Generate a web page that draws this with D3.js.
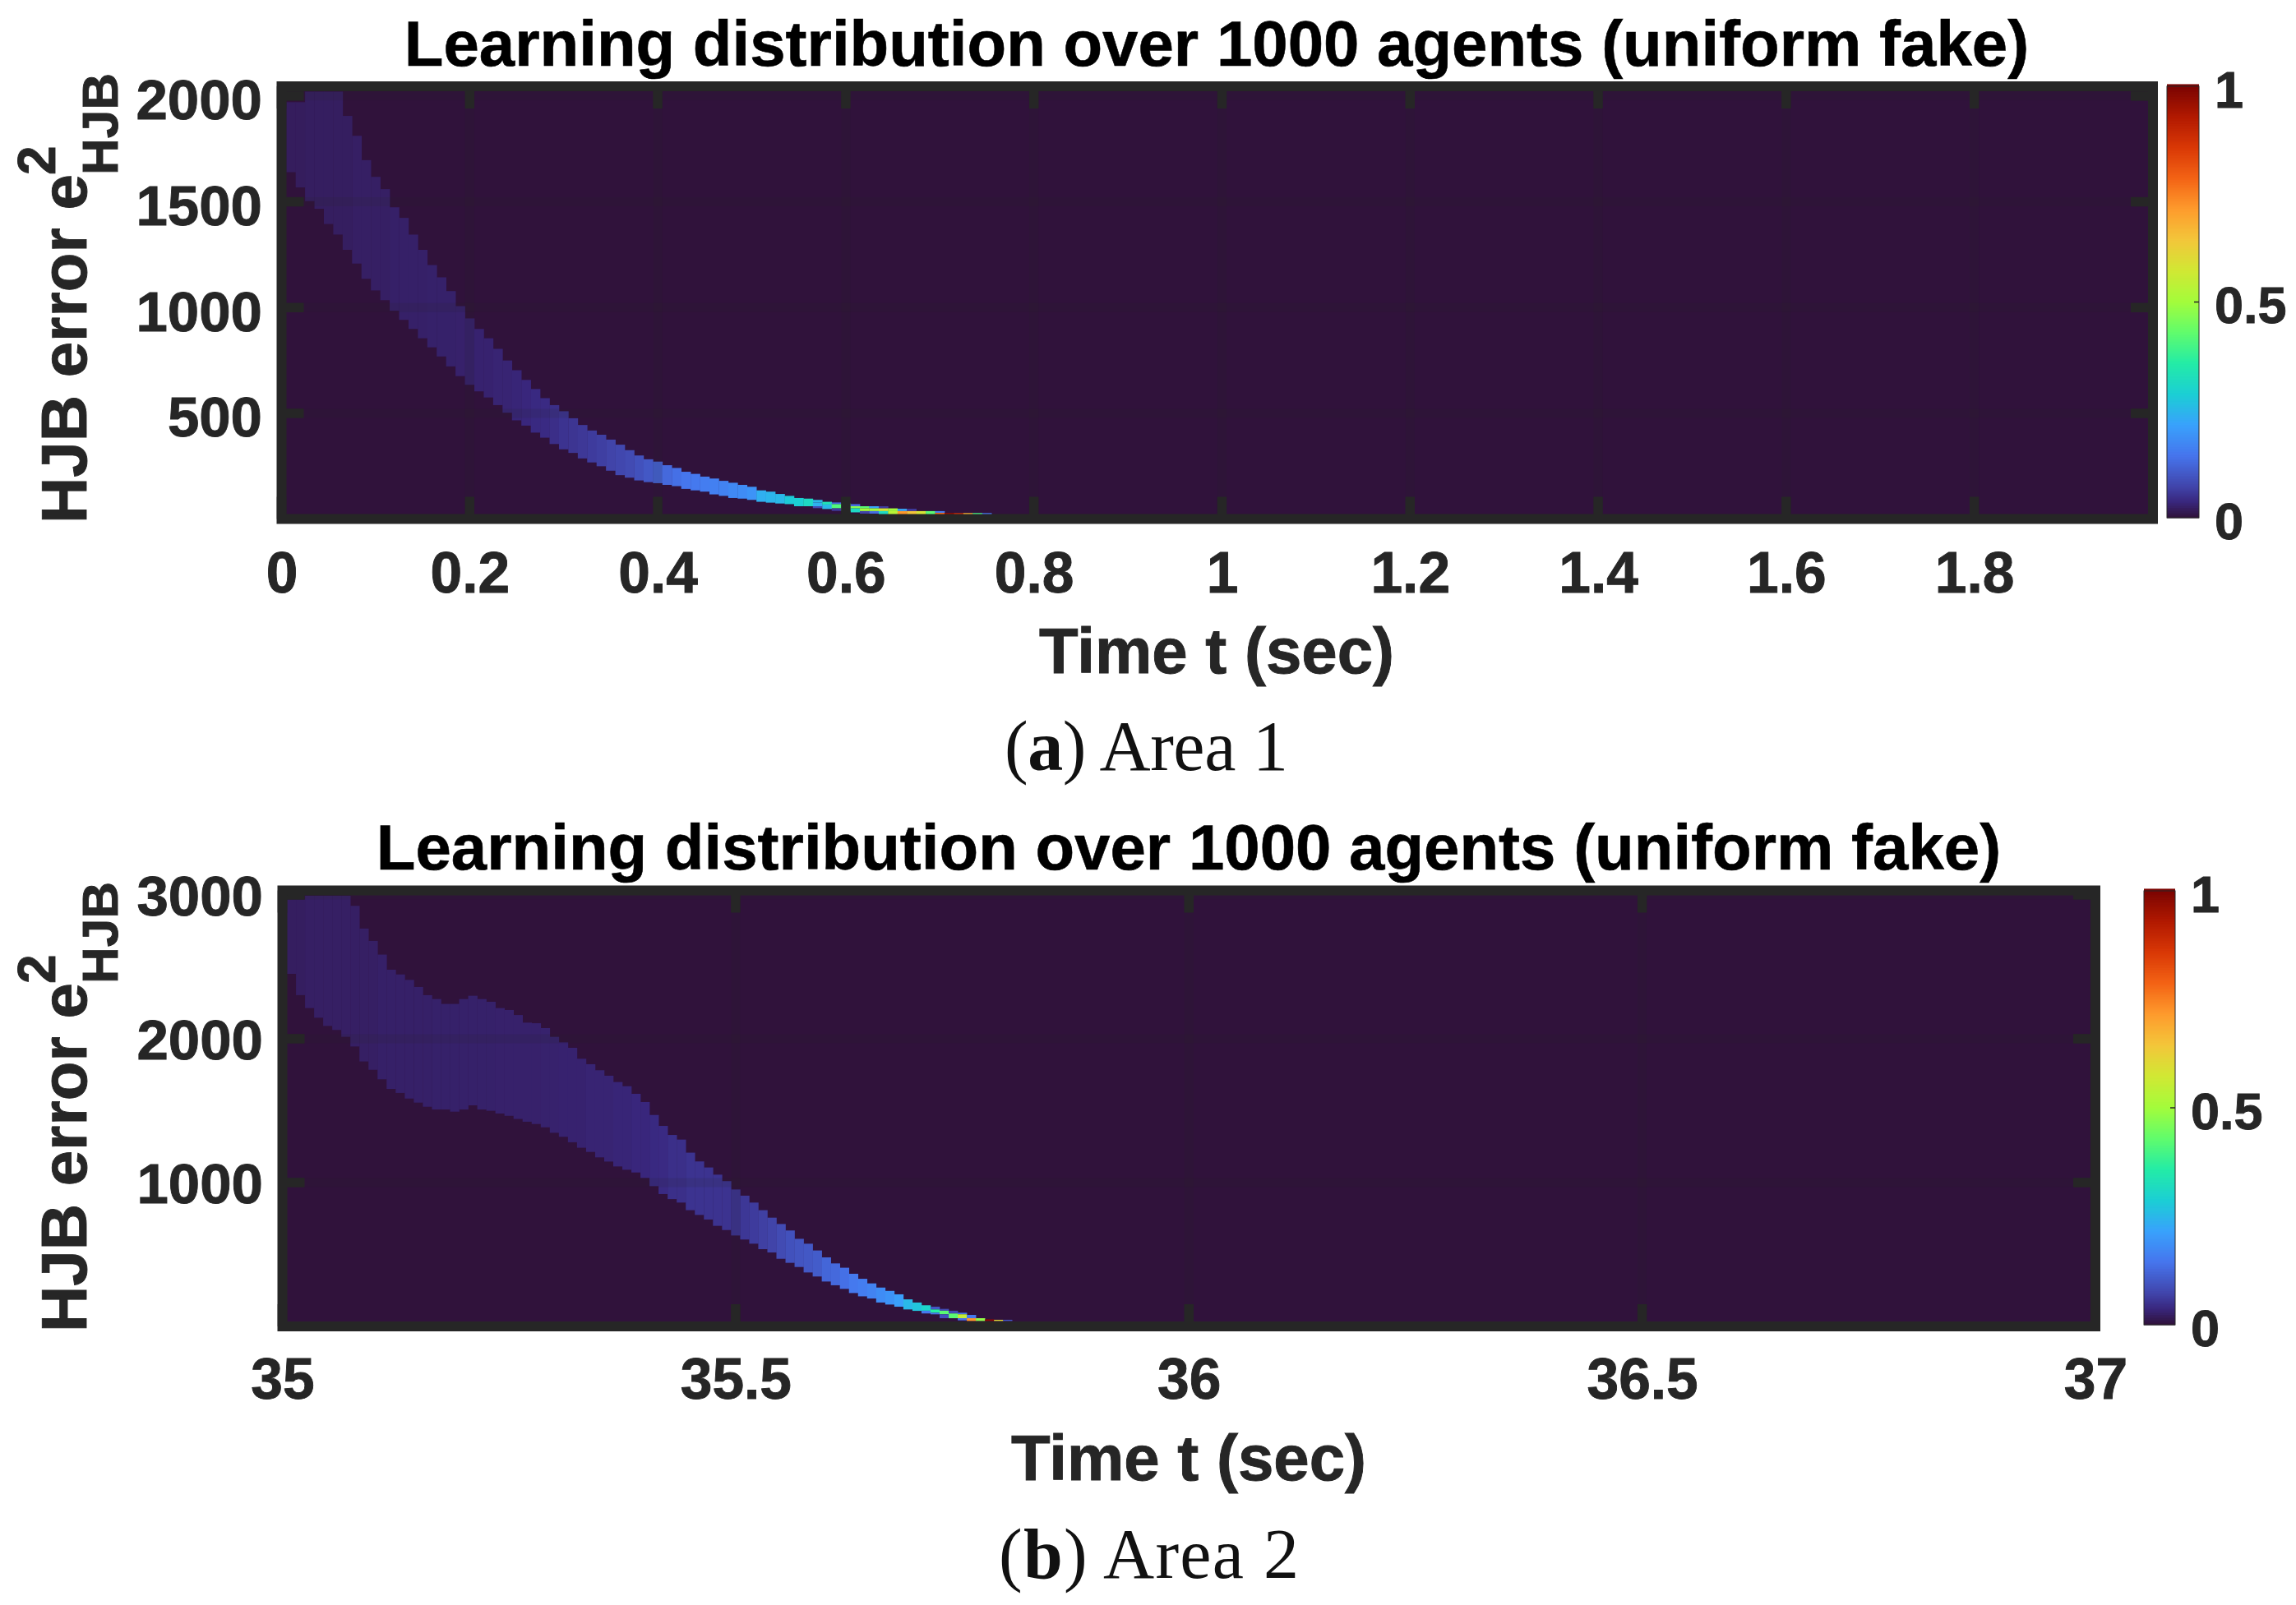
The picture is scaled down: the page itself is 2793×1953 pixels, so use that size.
<!DOCTYPE html>
<html><head><meta charset="utf-8">
<script src="https://cdn.jsdelivr.net/npm/d3@7"></script>
<style>html,body{margin:0;padding:0;background:#fff}svg{display:block}</style>
</head><body><svg id="c" width="2793" height="1953"></svg>
<script>
// ---------- shared ----------
const titleText = "Learning distribution over 1000 agents (uniform fake)";
const xAxisText = "Time t (sec)";
const turboLevels = [0,.036,.0714,.1429,.2143,.2857,.3571,.4286,.5,.5714,.6429,.7143,.7857,.8571,.9286,1];
const turboStops = ["#30123b","#39277e","#4145ab","#4675ed","#39a2fc","#1bcfd4","#24eca6","#61fc6c","#a4fc3b","#d1e834","#f3c63a","#fe9b2d","#f36315","#d93806","#b11901","#7a0402"];
const barTicks = [0, 0.5, 1];
const barLabels = ["0", "0.5", "1"];

// ---------- Area 1 ----------
const a1XTicks = [0,0.2,0.4,0.6,0.8,1,1.2,1.4,1.6,1.8];
const a1XLabels = ["0","0.2","0.4","0.6","0.8","1","1.2","1.4","1.6","1.8"];
const a1YTicks = [500,1000,1500,2000];
const a1Upper = [1971,1971,2021,2021,2021,2021,1906,1812,1697,1618,1560,1474,1424,1345,1273,1201,1143,1078,1007,949,899,855,805,750,704,658,615,572,539,510,477,445,419,399,376,352,326,301,283,272,255,242,224,214,201,192,181,172,162,153,136,130,119,110,100,97];
const a1Lower = [1640,1568,1503,1467,1395,1345,1273,1208,1136,1081,1035,985,942,899,855,812,769,722,676,635,604,575,539,503,467,442,409,385,355,330,313,287,268,250,229,208,196,183,175,170,162,156,143,136,130,117,110,100,97,91,82,78,74,71,61,61];
const a1Value = [.018,.018,.02,.02,.02,.02,.02,.022,.022,.022,.022,.024,.024,.024,.024,.025,.025,.025,.026,.026,.028,.028,.03,.03,.032,.035,.038,.04,.044,.05,.052,.056,.06,.064,.07,.075,.08,.09,.10,.115,.125,.135,.145,.15,.155,.16,.165,.175,.18,.19,.235,.245,.25,.28,.285,.31];
const a1TailStep = [57,57,57,58,58,59,59,59,60,61,61,61,62,62,62,63,63,63,64,64,64,65,65,66,66,67,67,68,69,70,70,71,72,73,74,75];
const a1TailHi   = [91,78,61,82,69,79,71,51,74,71,61,51,61,51,38,61,51,38,61,51,38,51,38,49,38,49,38,38,38,38,30,30,29,29,29,29];
const a1TailLo   = [78,61,52,69,48,71,51,39,39,61,51,32,51,38,26,51,38,26,51,38,22,38,22,38,22,38,22,22,22,30,22,22,22,22,22,22];
const a1TailVal  = [.25,.24,.08,.33,.25,.13,.41,.06,.42,.13,.47,.31,.42,.5,.07,.22,.5,.13,.06,.58,.31,.5,.53,.22,.72,.06,.65,.58,.42,.15,.78,.98,.88,.68,.4,.14];

// ---------- Area 2 ----------
const a2XTicks = [35,35.5,36,36.5,37];
const a2XLabels = ["35","35.5","36","36.5","37"];
const a2YTicks = [1000,2000,3000];
const a2Upper = [2969,2969,2994,2994,2994,2994,2994,2924,2766,2680,2585,2480,2447,2409,2360,2303,2276,2242,2242,2276,2299,2276,2257,2213,2200,2165,2112,2108,2074,2013,1975,1937,1861,1823,1781,1743,1699,1670,1617,1560,1470,1394,1331,1299,1208,1147,1105,1055,1010,952,909,861,808,756,712,667,609,575,528,480,438,408,366,331,299,270,247,223,188];
const a2Lower = [2451,2303,2213,2146,2089,2061,2013,1946,1842,1784,1718,1651,1623,1584,1556,1527,1508,1508,1493,1508,1537,1508,1499,1480,1464,1442,1423,1407,1384,1346,1318,1280,1242,1213,1175,1146,1112,1089,1070,1032,975,920,885,861,808,775,743,699,670,632,604,575,537,514,470,442,413,375,347,312,286,261,232,209,194,166,152,137,118];
const a2Value = [.02,.02,.022,.022,.022,.022,.022,.022,.022,.022,.024,.024,.024,.024,.024,.024,.025,.025,.025,.025,.025,.025,.025,.026,.026,.026,.026,.026,.027,.027,.028,.028,.028,.03,.03,.03,.032,.032,.035,.035,.038,.04,.045,.045,.05,.05,.05,.05,.05,.05,.055,.06,.065,.07,.08,.09,.095,.10,.105,.12,.125,.135,.15,.155,.165,.18,.19,.21,.25];
const a2TailStep = [70,71,71,72,72,72,73,73,73,74,74,75,75,75,76,76,77,78,79,80];
const a2TailHi   = [166,147,109,137,118,95,122,109,84,109,90,95,84,57,80,57,57,49,46,46];
const a2TailLo   = [108,109,90,118,95,84,109,84,57,90,57,84,57,42,57,38,38,38,38,38];
const a2TailVal  = [.27,.3,.15,.1,.36,.15,.08,.42,.09,.08,.42,.15,.55,.14,.15,.72,.48,.98,.6,.1];

// ---------- drawing ----------
const INK = "#262626", FONT = "'Liberation Sans', Arial, sans-serif";
const svg = d3.select("#c");
const colour = d3.scaleLinear().domain(turboLevels).range(turboStops).interpolate(d3.interpolateRgb);
const heavy = sel => sel.attr("stroke", INK).attr("stroke-width", 0.9);

function panel(p) {
  const x = d3.scaleLinear().domain(p.xDomain).range([p.left, p.right]);
  const y = d3.scaleLinear().domain(p.yDomain).range([p.bottom, p.top]);
  const g = svg.append("g");
  const clipId = "clip" + p.id;
  g.append("clipPath").attr("id", clipId).append("rect")
    .attr("x", p.left).attr("y", p.top).attr("width", p.right - p.left).attr("height", p.bottom - p.top);
  const plot = g.append("g").attr("clip-path", `url(#${clipId})`);
  plot.append("rect").attr("x", p.left).attr("y", p.top).attr("width", p.right - p.left).attr("height", p.bottom - p.top).attr("fill", colour(0));

  // heat-map cells: one per time step for the band body, several for the tail
  const step = 0.01;
  const cells = [];
  p.upper.forEach((u, i) => cells.push({ k: i + 1, hi: u, lo: p.lower[i], v: p.value[i] }));
  p.tailStep.forEach((k, i) => cells.push({ k, hi: p.tailHi[i], lo: p.tailLo[i], v: p.tailVal[i] }));
  plot.selectAll("rect.cell").data(cells).join("rect").attr("class", "cell")
    .attr("x", d => x(p.xDomain[0] + (d.k - 0.5) * step))
    .attr("width", d => x(p.xDomain[0] + (d.k + 0.5) * step) - x(p.xDomain[0] + (d.k - 0.5) * step) + 0.3)
    .attr("y", d => y(d.hi))
    .attr("height", d => y(d.lo) - y(d.hi))
    .attr("fill", d => colour(d.v));

  // faint grid
  plot.selectAll("line.gx").data(p.xTicks).join("line").attr("class", "gx").attr("x1", x).attr("x2", x).attr("y1", p.top).attr("y2", p.bottom)
    .attr("stroke", INK).attr("stroke-width", 11).attr("stroke-opacity", 0.13);
  plot.selectAll("line.gy").data(p.yTicks).join("line").attr("class", "gy").attr("y1", y).attr("y2", y).attr("x1", p.left).attr("x2", p.right)
    .attr("stroke", INK).attr("stroke-width", 11).attr("stroke-opacity", 0.13);

  // inward ticks on all four sides
  const tl = 27;
  const tick = (cls, data, f) => g.selectAll("line." + cls).data(data).join("line").attr("class", cls).each(f)
    .attr("stroke", INK).attr("stroke-width", 11.5);
  tick("tb", p.xTicks, function (d) { d3.select(this).attr("x1", x(d)).attr("x2", x(d)).attr("y1", p.bottom).attr("y2", p.bottom - tl); });
  tick("tt", p.xTicks, function (d) { d3.select(this).attr("x1", x(d)).attr("x2", x(d)).attr("y1", p.top).attr("y2", p.top + tl); });
  tick("tl", p.yTicks, function (d) { d3.select(this).attr("y1", y(d)).attr("y2", y(d)).attr("x1", p.left).attr("x2", p.left + tl); });
  tick("tr", p.yTicks, function (d) { d3.select(this).attr("y1", y(d)).attr("y2", y(d)).attr("x1", p.right).attr("x2", p.right - tl); });
  g.append("rect").attr("x", p.left).attr("y", p.top).attr("width", p.right - p.left).attr("height", p.bottom - p.top)
    .attr("fill", "none").attr("stroke", INK).attr("stroke-width", 12);

  // axes: labels only, tick lines drawn above
  const xa = g.append("g").attr("transform", `translate(0,${p.bottom + p.xLabelDrop})`)
    .call(d3.axisBottom(x).tickValues(p.xTicks).tickSize(0).tickPadding(0).tickFormat((d, i) => p.xLabels[i]));
  xa.select(".domain").remove();
  xa.selectAll("text").attr("y", 0).attr("dy", 0).attr("font-family", FONT).attr("font-weight", 700).attr("font-size", 69.5).attr("fill", INK).call(heavy);
  const ya = g.append("g").attr("transform", `translate(${p.left - 23.5},0)`)
    .call(d3.axisLeft(y).tickValues(p.yTicks).tickSize(0).tickPadding(0));
  ya.call(a => a.selectAll("text").text(d => String(d)));
  ya.select(".domain").remove();
  ya.selectAll("text").attr("x", 0).attr("dy", p.yLabelDy).attr("text-anchor", "end").attr("font-family", FONT).attr("font-weight", 700).attr("font-size", 69).attr("fill", INK).call(heavy);

  // titles
  g.append("text").attr("x", p.titleX).attr("y", p.titleY).attr("text-anchor", "middle").attr("font-family", FONT)
    .attr("font-weight", 700).attr("font-size", 78).attr("fill", "#000").attr("stroke", "#000").attr("stroke-width", 0.6).text(titleText);
  g.append("text").attr("x", p.titleX).attr("y", p.bottom + p.xTitleDrop).attr("text-anchor", "middle").attr("font-family", FONT)
    .attr("font-weight", 700).attr("font-size", 78).attr("fill", INK).call(heavy).text(xAxisText);

  // rotated y label in three parts
  const yl = g.append("g").attr("transform", `translate(105,${p.yLabelBase}) rotate(-90)`).attr("font-family", FONT).attr("font-weight", 700).attr("fill", INK).call(heavy);
  yl.append("text").attr("x", 0).attr("y", 0).attr("font-size", 78).text("HJB error e");
  yl.append("text").attr("x", 424).attr("y", -38).attr("font-size", 64).text("2");
  yl.append("text").attr("x", 424).attr("y", 38).attr("font-size", 62).text("HJB");

  // colour bar
  const by = d3.scaleLinear().domain([0, 1]).range([p.barBottom, p.barTop]);
  const grads = d3.range(0, 256).map(i => i / 255);
  g.selectAll("rect.bar").data(grads).join("rect").attr("class", "bar")
    .attr("x", p.barLeft).attr("width", p.barRight - p.barLeft)
    .attr("y", d => by(d) - (p.barBottom - p.barTop) / 255 - 0.5)
    .attr("height", (p.barBottom - p.barTop) / 255 + 1)
    .attr("fill", d => colour(d));
  g.append("rect").attr("x", p.barLeft).attr("y", p.barTop).attr("width", p.barRight - p.barLeft).attr("height", p.barBottom - p.barTop)
    .attr("fill", "none").attr("stroke", INK).attr("stroke-width", 1);
  const ba = g.append("g").attr("transform", `translate(${p.barRight},0)`)
    .call(d3.axisRight(by).tickValues(barTicks).tickSize(0).tickPadding(0).tickFormat((d, i) => barLabels[i]));
  ba.select(".domain").remove();
  ba.selectAll("text").attr("x", 19).attr("dy", 25).attr("font-family", FONT).attr("font-weight", 700).attr("font-size", 63).attr("fill", INK).call(heavy);
  g.append("line").attr("x1", p.barRight - 6).attr("x2", p.barRight).attr("y1", by(0.5)).attr("y2", by(0.5)).attr("stroke", INK).attr("stroke-width", 1.5);

  // caption
  const cap = svg.append("text").attr("x", p.capX).attr("y", p.capY).attr("font-family", "'Liberation Serif', serif").attr("font-size", 86)
    .attr("fill", "#111").attr("textLength", p.capW).attr("lengthAdjust", "spacing");
  cap.append("tspan").text("(");
  cap.append("tspan").attr("font-weight", 700).text(p.capLetter);
  cap.append("tspan").text(") " + p.capRest);
}

panel({ id: 1, xDomain: [0, 1.99], yDomain: [0.8, 2046], left: 342.5, right: 2619, top: 105, bottom: 631.5,
  xTicks: a1XTicks, xLabels: a1XLabels, yTicks: a1YTicks,
  upper: a1Upper, lower: a1Lower, value: a1Value, tailStep: a1TailStep, tailHi: a1TailHi, tailLo: a1TailLo, tailVal: a1TailVal,
  titleX: 1480, titleY: 80, yLabelBase: 637, xLabelDrop: 89.5, xTitleDrop: 187, yLabelDy: 28,
  barLeft: 2636, barRight: 2675, barTop: 105, barBottom: 630,
  capX: 1222, capY: 937, capW: 345, capLetter: "a", capRest: "Area 1" });

panel({ id: 2, xDomain: [35, 37], yDomain: [0, 3031], left: 343.5, right: 2549, top: 1083.5, bottom: 1614,
  xTicks: a2XTicks, xLabels: a2XLabels, yTicks: a2YTicks,
  upper: a2Upper, lower: a2Lower, value: a2Value, tailStep: a2TailStep, tailHi: a2TailHi, tailLo: a2TailLo, tailVal: a2TailVal,
  titleX: 1446, titleY: 1058, yLabelBase: 1621, xLabelDrop: 87.5, xTitleDrop: 187, yLabelDy: 25,
  barLeft: 2608, barRight: 2646, barTop: 1084, barBottom: 1612,
  capX: 1215, capY: 1920, capW: 365, capLetter: "b", capRest: "Area 2" });
</script></body></html>
